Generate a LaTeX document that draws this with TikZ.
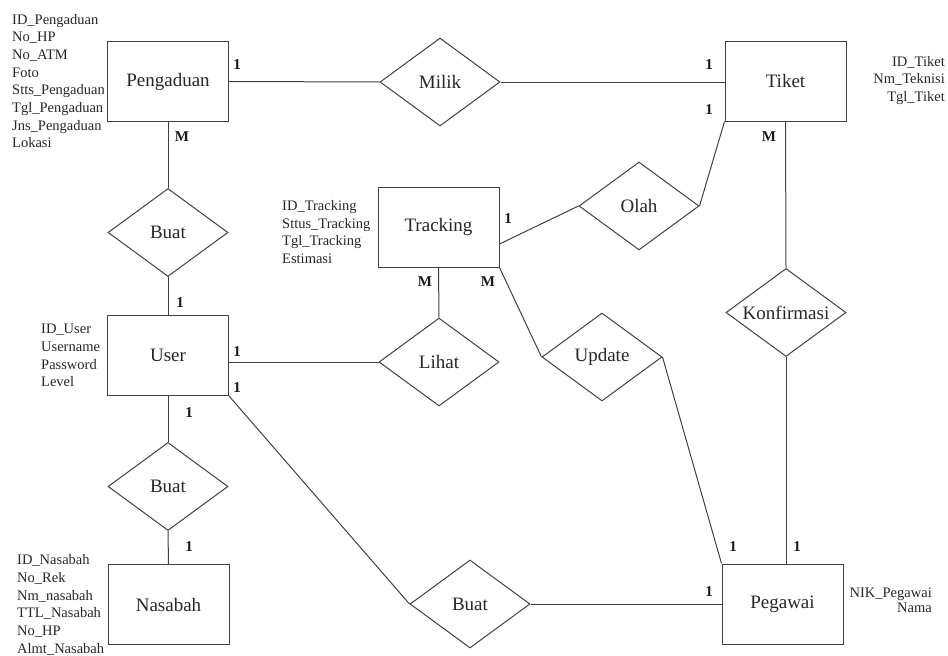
\documentclass[tikz,border=0pt]{standalone}
\usepackage{fontspec}
\setmainfont{Liberation Serif}
\usetikzlibrary{shapes.geometric}

\tikzset{
  entity/.style={draw=black!75, line width=1pt, minimum width=121pt, minimum height=80pt,
    inner sep=0pt, font=\fontsize{19}{22}\selectfont, text=black!85},
  relation/.style={draw=black!75, line width=1pt, diamond, aspect=1.36, inner sep=0pt,
    minimum width=120pt, minimum height=88pt, font=\fontsize{19}{22}\selectfont, text=black!85},
  attrs/.style={inner sep=0pt, font=\fontsize{14.5}{17.7}\selectfont, text=black!85},
  card/.style={inner sep=0pt, font=\fontsize{15}{17}\selectfont\bfseries, text=black!90},
  link/.style={draw=black!75, line width=1pt}
}

\begin{document}
\begin{tikzpicture}[x=1pt, y=-1pt]
  \useasboundingbox (0,0) rectangle (948,656);

  % entities
  \node[entity] (peng) at (168,81.5) {Pengaduan};
  \node[entity] (tiket) at (785.5,81) {Tiket};
  \node[entity] (track) at (438.5,227) {Tracking};
  \node[entity] (user) at (168,355.5) {User};
  \node[entity] (nasabah) at (168.5,604.5) {Nasabah};
  \node[entity] (pegawai) at (782.5,604) {Pegawai};

  % relationships
  \node[relation] (milik) at (440,82) {Milik};
  \node[relation] (olah) at (639,206) {Olah};
  \node[relation] (buatA) at (168,232.5) {Buat};
  \node[relation] (lihat) at (439,362) {Lihat};
  \node[relation] (update) at (602,357) {Update};
  \node[relation] (konf) at (786,312.5) {Konfirmasi};
  \node[relation] (buatB) at (168,486.5) {Buat};
  \node[relation] (buatC) at (470,604) {Buat};

  % attributes
  \node[attrs, align=left, anchor=west] (apeng) at (12,81) {ID\_Pengaduan\\No\_HP\\No\_ATM\\Foto\\Stts\_Pengaduan\\Tgl\_Pengaduan\\Jns\_Pengaduan\\Lokasi};
  \node[attrs, align=left, anchor=west] (atrack) at (282,232) {ID\_Tracking\\Sttus\_Tracking\\Tgl\_Tracking\\Estimasi};
  \node[attrs, align=left, anchor=west] (auser) at (41,355.5) {ID\_User\\Username\\Password\\Level};
  \node[attrs, align=left, anchor=west] (anas) at (17,605) {ID\_Nasabah\\No\_Rek\\Nm\_nasabah\\TTL\_Nasabah\\No\_HP\\Almt\_Nasabah};
  \node[attrs, align=right, anchor=east] (atiket) at (945,80.5) {ID\_Tiket\\Nm\_Teknisi\\Tgl\_Tiket};
  \node[attrs, align=right, anchor=east, font=\fontsize{14.5}{15}\selectfont] (apeg) at (932,600.5) {NIK\_Pegawai\\Nama};

  % connectors
  \draw[link] (peng.east) -- (milik.west);
  \draw[link] (milik.east) -- (tiket.west |- milik.east);
  \draw[link] (peng.south) -- (buatA.north);
  \draw[link] (buatA.south) -- (user.north);
  \draw[link] (lihat.west -| user.east) -- (lihat.west);
  \draw[link] (user.south) -- (buatB.north);
  \draw[link] (buatB.south) -- (nasabah.north);
  \draw[link] (user.south east) -- (buatC.west);
  \draw[link] (buatC.east) -- (buatC.east -| pegawai.west);
  \draw[link] (track.south) -- (lihat.north);
  \draw[link] (track.south east) -- (update.west);
  \draw[link] (update.east) -- (pegawai.north west);
  \draw[link] ([yshift=-17pt]track.east) -- (olah.west);
  \draw[link] (olah.east) -- (tiket.south west);
  \draw[link] (tiket.south) -- (konf.north);
  \draw[link] (konf.south) -- (konf.south |- pegawai.north);

  % cardinalities
  \node[card] (c1) at (237,65) {1};
  \node[card] (c2) at (182,137) {M};
  \node[card] (c3) at (180,303) {1};
  \node[card] (c4) at (237,352) {1};
  \node[card] (c5) at (237,388) {1};
  \node[card] (c6) at (189,413) {1};
  \node[card] (c7) at (189,547) {1};
  \node[card] (c8) at (709,65) {1};
  \node[card] (c9) at (709,110) {1};
  \node[card] (c10) at (769,137) {M};
  \node[card] (c11) at (508,219) {1};
  \node[card] (c12) at (425,282) {M};
  \node[card] (c13) at (488,282) {M};
  \node[card] (c14) at (733,547) {1};
  \node[card] (c15) at (797,547) {1};
  \node[card] (c16) at (709,592) {1};
\end{tikzpicture}
\end{document}
